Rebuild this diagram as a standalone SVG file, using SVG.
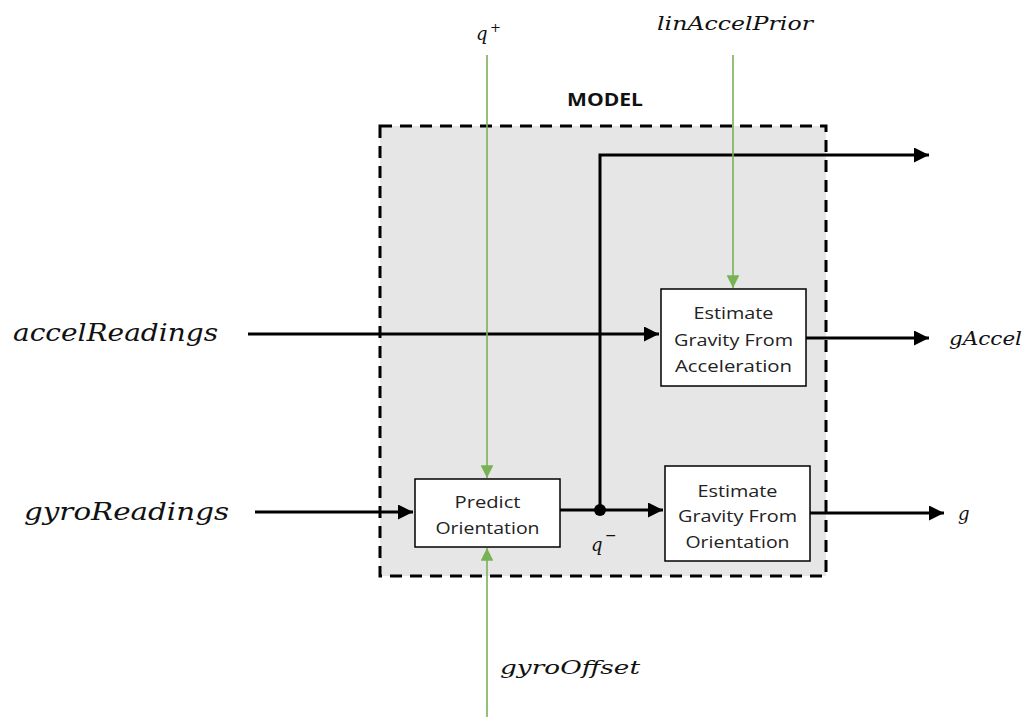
<svg xmlns="http://www.w3.org/2000/svg" width="1028" height="717" viewBox="0 0 1028 717">
<style>
.box{fill:#fff;stroke:#000;stroke-width:1.5}
.bt{font-family:"Open Sans","Liberation Sans",sans-serif;font-size:16px;fill:#222;text-anchor:middle}
.m{font-family:"DejaVu Serif","Liberation Serif",serif;font-style:italic;fill:#111}
.blk{stroke:#000;stroke-width:3;fill:none}
.grn{stroke:#77b255;stroke-width:1.6;fill:none}
</style>
<defs>
<marker id="ab" viewBox="0 0 10 10" refX="10" refY="5" markerWidth="5" markerHeight="5" orient="auto" markerUnits="strokeWidth"><path d="M0,0 L10,5 L0,10 z" fill="#000"/></marker>
<marker id="ag" viewBox="0 0 10 10" refX="10" refY="5" markerWidth="8" markerHeight="8" orient="auto" markerUnits="strokeWidth"><path d="M0,0 L10,5 L0,10 z" fill="#77b255"/></marker>
</defs>
<rect width="1028" height="717" fill="#fff"/>
<g id="model">
<rect x="380" y="126" width="446" height="450" fill="#e6e6e6" stroke="#000" stroke-width="3" stroke-dasharray="12,8"/>
<text x="605" y="106" font-family="Open Sans, Liberation Sans, sans-serif" font-size="17" font-weight="bold" text-anchor="middle" fill="#111" textLength="76" lengthAdjust="spacingAndGlyphs">MODEL</text>
</g>
<g id="connectors">
<path class="blk" d="M248,334 H659" marker-end="url(#ab)"/>
<path class="blk" d="M255,512 H413" marker-end="url(#ab)"/>
<path class="blk" d="M560,510 H663" marker-end="url(#ab)"/>
<path class="blk" d="M600,510 V155 H929" marker-end="url(#ab)"/>
<path class="blk" d="M806,338 H929" marker-end="url(#ab)"/>
<path class="blk" d="M810,513 H944" marker-end="url(#ab)"/>
<circle cx="600" cy="510" r="6" fill="#000"/>
<path class="grn" d="M487,55 V478" marker-end="url(#ag)"/>
<path class="grn" d="M733,55 V288" marker-end="url(#ag)"/>
<path class="grn" d="M487,717 V548" marker-end="url(#ag)"/>
</g>
<g id="predict">
<rect class="box" x="415" y="479" width="145" height="68"/>
<text class="bt" x="487.5" y="508" textLength="66" lengthAdjust="spacingAndGlyphs">Predict</text>
<text class="bt" x="487.5" y="534" textLength="104" lengthAdjust="spacingAndGlyphs">Orientation</text>
</g>
<g id="estAccel">
<rect class="box" x="661" y="289" width="145" height="97"/>
<text class="bt" x="733.5" y="319" textLength="80" lengthAdjust="spacingAndGlyphs">Estimate</text>
<text class="bt" x="733.5" y="346" textLength="119" lengthAdjust="spacingAndGlyphs">Gravity From</text>
<text class="bt" x="733.5" y="372" textLength="117" lengthAdjust="spacingAndGlyphs">Acceleration</text>
</g>
<g id="estOrient">
<rect class="box" x="665" y="466" width="145" height="95"/>
<text class="bt" x="737.5" y="497" textLength="80" lengthAdjust="spacingAndGlyphs">Estimate</text>
<text class="bt" x="737.5" y="522" textLength="119" lengthAdjust="spacingAndGlyphs">Gravity From</text>
<text class="bt" x="737.5" y="548" textLength="104" lengthAdjust="spacingAndGlyphs">Orientation</text>
</g>
<g id="labels">
<text class="m" x="13" y="341" font-size="24" textLength="205" lengthAdjust="spacingAndGlyphs">accelReadings</text>
<text class="m" x="24" y="520" font-size="24" textLength="205" lengthAdjust="spacingAndGlyphs">gyroReadings</text>
<text class="m" x="949" y="345" font-size="18" textLength="73" lengthAdjust="spacingAndGlyphs">gAccel</text>
<text class="m" x="958" y="520" font-size="18">g</text>
<text class="m" x="476" y="40" font-size="18">q</text>
<text class="m" x="490" y="32" font-size="13">+</text>
<text class="m" x="657" y="30" font-size="18" textLength="156" lengthAdjust="spacingAndGlyphs">linAccelPrior</text>
<text class="m" x="500" y="674" font-size="18" textLength="140" lengthAdjust="spacingAndGlyphs">gyroOffset</text>
<text class="m" x="591" y="551" font-size="18">q</text>
<text class="m" x="605" y="540" font-size="14">−</text>
</g>
</svg>
